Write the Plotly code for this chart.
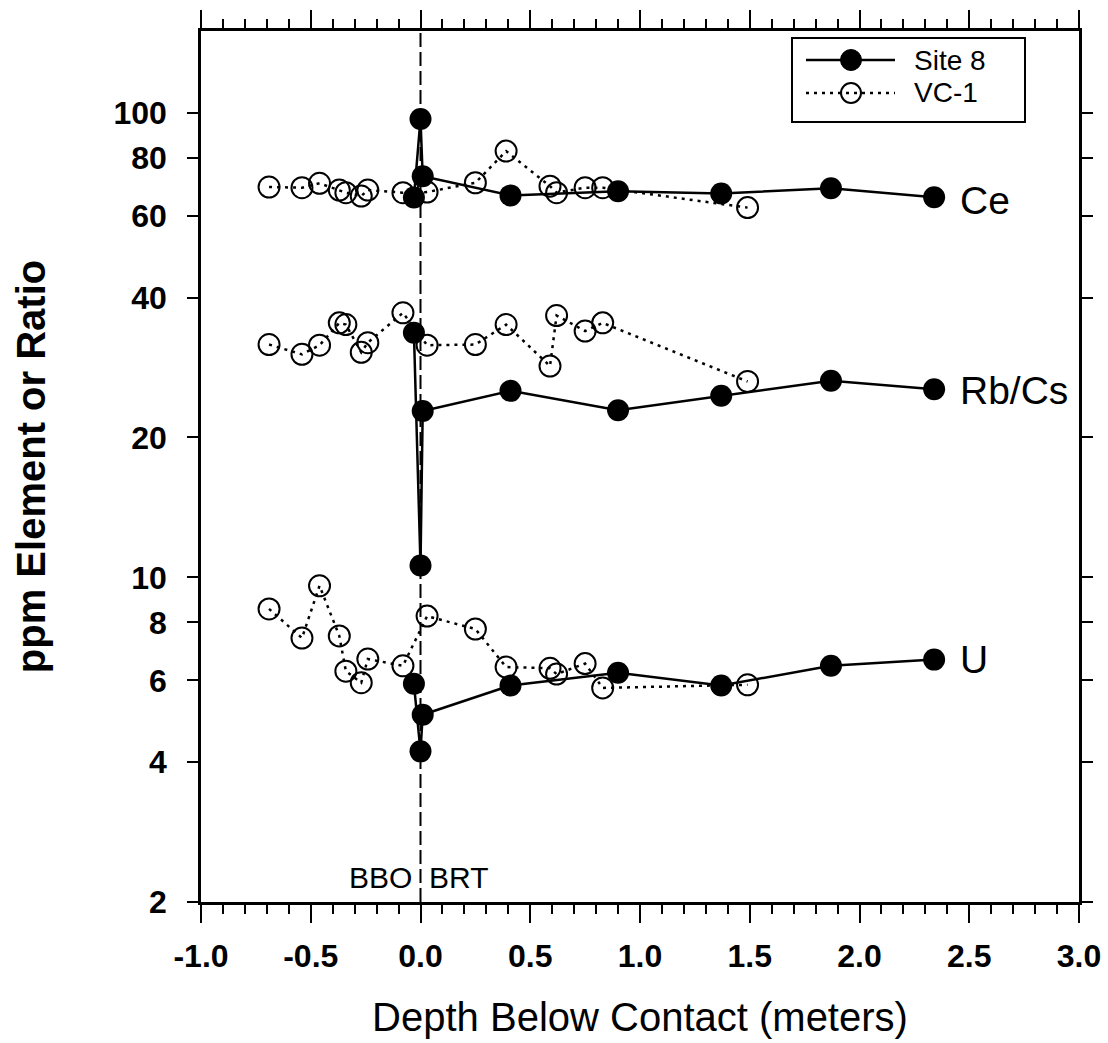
import math
import plotly.graph_objects as go

# ---------------- data ----------------
site8_depth = [-0.03, 0.0, 0.01, 0.41, 0.90, 1.37, 1.87, 2.34]
site8_ce = [65.7, 97.0, 73.0, 66.4, 67.8, 67.0, 68.8, 65.8]
site8_rbcs = [33.6, 10.6, 22.8, 25.2, 22.9, 24.6, 26.5, 25.4]
site8_u = [5.9, 4.22, 5.06, 5.85, 6.23, 5.85, 6.45, 6.65]

vc1_depth = [-0.69, -0.54, -0.46, -0.37, -0.34, -0.27, -0.24, -0.08,
             0.03, 0.25, 0.39, 0.59, 0.62, 0.75, 0.83, 1.49]
vc1_ce = [69.2, 69.0, 70.5, 68.2, 67.3, 66.2, 68.2, 67.3,
          67.5, 70.7, 82.7, 69.5, 67.3, 69.0, 69.0, 62.5]
vc1_rbcs = [31.7, 30.2, 31.6, 35.3, 35.0, 30.5, 32.0, 37.1,
            31.6, 31.7, 35.0, 28.5, 36.6, 33.9, 35.3, 26.4]
vc1_u = [8.55, 7.40, 9.59, 7.48, 6.28, 5.93, 6.67, 6.45,
         8.25, 7.74, 6.41, 6.37, 6.19, 6.52, 5.78, 5.87]

series_labels = ["Ce", "Rb/Cs", "U"]
label_values = [64.6, 25.2, 6.64]
label_depth = 2.45

y_tickvals = [2, 4, 6, 8, 10, 20, 40, 60, 80, 100]
y_major = [10, 100]
x_tickvals = [-1.0, -0.5, 0.0, 0.5, 1.0, 1.5, 2.0, 2.5, 3.0]
x_ticktext = ["-1.0", "-0.5", "0.0", "0.5", "1.0", "1.5", "2.0", "2.5", "3.0"]
x_range = [-1.0, 3.0]
y_range = [2, 150]
legend_names = ["Site 8", "VC-1"]

FONT = "Liberation Sans, Arial, sans-serif"

fig = go.Figure()

vc1_sets = [vc1_ce, vc1_rbcs, vc1_u]
site8_sets = [site8_ce, site8_rbcs, site8_u]

VC_LINE = dict(color="black", width=2.5, dash="3px,5px")
S8_LINE = dict(color="black", width=2.5)

for i, vals in enumerate(vc1_sets):
    fig.add_trace(go.Scatter(
        x=vc1_depth, y=vals, mode="lines+markers", name=legend_names[1],
        showlegend=False, line=VC_LINE,
        marker=dict(symbol="circle-open", size=21, color="black",
                    line=dict(width=2, color="black")),
    ))

for i, vals in enumerate(site8_sets):
    fig.add_trace(go.Scatter(
        x=site8_depth, y=vals, mode="lines+markers", name=legend_names[0],
        showlegend=False, line=S8_LINE,
        marker=dict(symbol="circle", size=22, color="black"),
    ))

# vertical dashed contact line
fig.add_shape(type="line", xref="x", yref="paper", x0=0, x1=0, y0=0, y1=1,
              line=dict(color="black", width=2, dash="14px,5px"), layer="below")

for lab, val in zip(series_labels, label_values):
    fig.add_annotation(x=label_depth, y=math.log10(val), text=lab, showarrow=False,
                       xanchor="left", yanchor="middle",
                       font=dict(family=FONT, size=39, color="black"))

fig.add_annotation(x=-0.03, y=0.028, xref="x", yref="paper", text="BBO", showarrow=False,
                   xanchor="right", yanchor="middle", font=dict(family=FONT, size=30, color="black"))
fig.add_annotation(x=0.03, y=0.028, xref="x", yref="paper", text="BRT", showarrow=False,
                   xanchor="left", yanchor="middle", font=dict(family=FONT, size=30, color="black"))

# ---------------- hand-drawn legend box (paper coordinates) ----------------
PL, PR, PT, PB = 201, 1079, 31, 902
def px(xp):
    return (xp - PL) / (PR - PL)
def py(yp):
    return (PB - yp) / (PB - PT)

fig.add_shape(type="rect", xref="paper", yref="paper",
              x0=px(792), x1=px(1025), y0=py(122), y1=py(38),
              line=dict(color="black", width=2), fillcolor="white", layer="above")
rows = [(60, S8_LINE, "filled"), (93, VC_LINE, "open")]
for (ry, lstyle, kind), name in zip(rows, legend_names):
    fig.add_shape(type="line", xref="paper", yref="paper",
                  x0=px(806), x1=px(895), y0=py(ry), y1=py(ry),
                  line=lstyle, layer="above")
    if kind == "filled":
        fig.add_shape(type="circle", xref="paper", yref="paper",
                      xsizemode="pixel", ysizemode="pixel",
                      xanchor=px(851), yanchor=py(ry), x0=-10.5, x1=10.5, y0=-10.5, y1=10.5,
                      fillcolor="black", line=dict(color="black", width=1), layer="above")
    else:
        fig.add_shape(type="circle", xref="paper", yref="paper",
                      xsizemode="pixel", ysizemode="pixel",
                      xanchor=px(851), yanchor=py(ry), x0=-10, x1=10, y0=-10, y1=10,
                      fillcolor="rgba(0,0,0,0)", line=dict(color="black", width=2), layer="above")
    fig.add_annotation(xref="paper", yref="paper", x=px(913), y=py(ry), text=name,
                       showarrow=False, xanchor="left", yanchor="middle", borderpad=0,
                       font=dict(family=FONT, size=28, color="black"))

yr = [math.log10(y_range[0]), math.log10(y_range[1])]

fig.update_layout(
    width=1108, height=1043,
    margin=dict(l=PL, r=1108 - PR, t=PT, b=1043 - PB),
    paper_bgcolor="white", plot_bgcolor="white",
    font=dict(family=FONT, color="black"),
    showlegend=False,
    xaxis=dict(range=x_range, tickmode="array", tickvals=x_tickvals, ticktext=x_ticktext,
               showline=True, linewidth=2.5, linecolor="black", mirror="ticks",
               ticks="outside", ticklen=18, tickwidth=2, tickcolor="black",
               minor=dict(dtick=0.1, tick0=0, ticks="outside", ticklen=9, tickwidth=2, tickcolor="black"),
               showgrid=False, zeroline=False, ticklabelstandoff=6, automargin=False,
               tickfont=dict(family=FONT, size=32, weight="bold"),
               title=dict(text="Depth Below Contact (meters)", standoff=30,
                          font=dict(family=FONT, size=40))),
    yaxis=dict(type="log", range=yr, tickmode="array", tickvals=y_tickvals,
               ticktext=[str(v) for v in y_tickvals],
               showline=True, linewidth=2.5, linecolor="black", mirror="ticks",
               ticks="outside", ticklen=11, tickwidth=2, tickcolor="black",
               showgrid=False, zeroline=False, ticklabelstandoff=14, automargin=False,
               tickfont=dict(family=FONT, size=32, weight="bold"),
               title=dict(text="ppm Element or Ratio", standoff=56,
                          font=dict(family=FONT, size=40, weight="bold"))),
    yaxis2=dict(type="log", range=yr, overlaying="y", anchor="x", side="left",
                tickmode="array", tickvals=y_major, showticklabels=False, automargin=False,
                showline=False, mirror="ticks", ticks="outside", ticklen=19,
                tickwidth=2, tickcolor="black", showgrid=False, zeroline=False),
)

fig.write_html("out.html")
